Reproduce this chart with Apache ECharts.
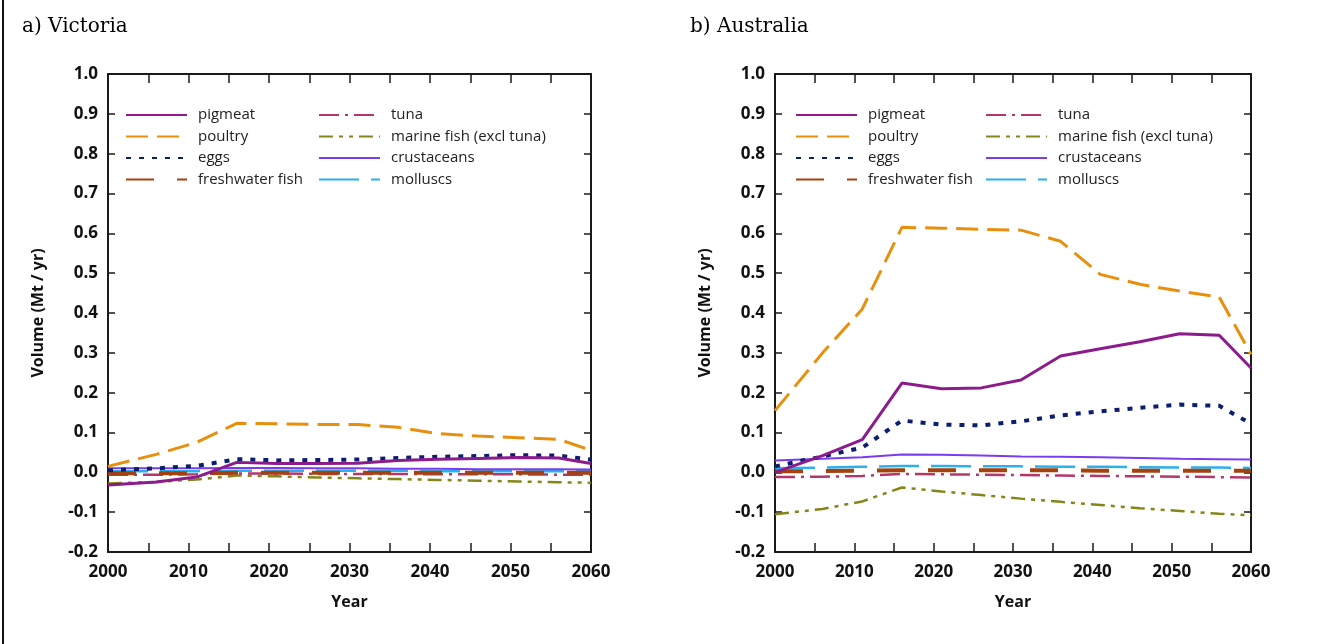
<!DOCTYPE html>
<html>
<head>
<meta charset="utf-8">
<script src="https://cdn.jsdelivr.net/npm/echarts@6/dist/echarts.min.js"></script>
<style>
html,body{margin:0;padding:0;background:#fff;}
#chart{width:1330px;height:644px;}
#edge{position:absolute;left:2px;top:0;width:2px;height:644px;background:#111;}
</style>
</head>
<body>
<div id="chart"></div>
<div id="edge"></div>
<script>
// ---- data ----
const years = [2000, 2006, 2011, 2016, 2021, 2026, 2031, 2036, 2041, 2046, 2051, 2056, 2060];
const seriesNames = ['pigmeat', 'poultry', 'eggs', 'freshwater fish', 'tuna', 'marine fish (excl tuna)', 'crustaceans', 'molluscs'];
const xTicks = [2000, 2010, 2020, 2030, 2040, 2050, 2060];
const yTicks = [-0.2, -0.1, 0.0, 0.1, 0.2, 0.3, 0.4, 0.5, 0.6, 0.7, 0.8, 0.9, 1.0];
const panelTitles = ['a) Victoria', 'b) Australia'];

// Victoria
const vicPigmeat     = [-0.032, -0.024, -0.012, 0.025, 0.022, 0.022, 0.023, 0.030, 0.033, 0.035, 0.037, 0.036, 0.022];
const vicPoultry     = [0.015, 0.045, 0.075, 0.123, 0.122, 0.120, 0.120, 0.113, 0.097, 0.091, 0.087, 0.083, 0.055];
const vicEggs        = [0.005, 0.010, 0.016, 0.033, 0.030, 0.031, 0.032, 0.036, 0.039, 0.041, 0.043, 0.042, 0.032];
const vicFreshwater  = [-0.002, -0.002, -0.002, -0.001, -0.001, -0.001, -0.001, -0.001, -0.001, -0.001, -0.001, -0.001, -0.001];
const vicTuna        = [-0.006, -0.006, -0.005, -0.003, -0.003, -0.004, -0.004, -0.004, -0.005, -0.005, -0.005, -0.006, -0.006];
const vicMarine      = [-0.028, -0.024, -0.018, -0.008, -0.010, -0.013, -0.015, -0.017, -0.019, -0.021, -0.023, -0.025, -0.026];
const vicCrustaceans = [0.010, 0.010, 0.010, 0.011, 0.011, 0.010, 0.010, 0.009, 0.009, 0.008, 0.008, 0.008, 0.007];
const vicMolluscs    = [0.003, 0.003, 0.003, 0.004, 0.004, 0.004, 0.004, 0.004, 0.003, 0.003, 0.003, 0.003, 0.003];

// Australia
const ausPigmeat     = [0.000, 0.042, 0.082, 0.224, 0.210, 0.212, 0.232, 0.292, 0.310, 0.328, 0.348, 0.344, 0.262];
const ausPoultry     = [0.155, 0.300, 0.410, 0.615, 0.613, 0.610, 0.608, 0.580, 0.497, 0.472, 0.455, 0.440, 0.296];
const ausEggs        = [0.015, 0.040, 0.062, 0.130, 0.120, 0.118, 0.128, 0.143, 0.153, 0.162, 0.170, 0.167, 0.122];
const ausFreshwater  = [0.003, 0.003, 0.004, 0.005, 0.005, 0.005, 0.005, 0.005, 0.004, 0.004, 0.004, 0.004, 0.004];
const ausTuna        = [-0.012, -0.011, -0.009, -0.004, -0.005, -0.006, -0.007, -0.008, -0.009, -0.010, -0.011, -0.012, -0.013];
const ausMarine      = [-0.105, -0.092, -0.073, -0.038, -0.048, -0.057, -0.066, -0.074, -0.082, -0.090, -0.097, -0.104, -0.108];
const ausCrustaceans = [0.030, 0.034, 0.038, 0.045, 0.044, 0.042, 0.040, 0.039, 0.038, 0.036, 0.034, 0.033, 0.032];
const ausMolluscs    = [0.010, 0.012, 0.014, 0.016, 0.016, 0.015, 0.015, 0.014, 0.014, 0.013, 0.012, 0.012, 0.011];

const vicData = [vicPigmeat, vicPoultry, vicEggs, vicFreshwater, vicTuna, vicMarine, vicCrustaceans, vicMolluscs];
const ausData = [ausPigmeat, ausPoultry, ausEggs, ausFreshwater, ausTuna, ausMarine, ausCrustaceans, ausMolluscs];

// ---- styles ----
const lineStyles = [
  {color: '#8C1C8C', width: 3, type: 'solid'},
  {color: '#E8900E', width: 3, type: [22, 9]},
  {color: '#0B1E6E', width: 4, type: [5, 8]},
  {color: '#A3420F', width: 4, type: [28, 23]},
  {color: '#B4376C', width: 2.5, type: [20, 6, 3, 6]},
  {color: '#858519', width: 2.5, type: [14, 6, 4, 6, 4, 6]},
  {color: '#7A3CF0', width: 2, type: 'solid'},
  {color: '#2BB0EE', width: 2.5, type: [40, 12]}
];

const FONT = 'Open Sans';
const axisCol = '#1a1a1a';
const grids = [
  {left: 108, top: 74, width: 483, height: 478},
  {left: 775, top: 74, width: 476, height: 478}
];

const xAxes = [], yAxes = [], series = [], legends = [], titles = [];
grids.forEach((g, gi) => {
  const base = {
    gridIndex: gi, type: 'value', min: 2000, max: 2060, interval: 5,
    axisLine: {show: true, onZero: false, lineStyle: {color: axisCol, width: 2}},
    axisTick: {show: true, inside: true, length: 9, lineStyle: {color: axisCol, width: 1.5}},
    splitLine: {show: false}
  };
  xAxes.push(Object.assign({}, base, {
    position: 'bottom', name: 'Year', nameLocation: 'middle', nameGap: 42,
    nameTextStyle: {fontFamily: FONT, fontWeight: 'bold', fontSize: 16, color: '#111'},
    axisLabel: {fontFamily: FONT, fontWeight: 'bold', fontSize: 17, color: '#111', margin: 12,
      formatter: v => xTicks.indexOf(v) >= 0 ? String(v) : ''}
  }));
  xAxes.push(Object.assign({}, base, {position: 'top', axisLabel: {show: false}}));
  const ybase = {
    gridIndex: gi, type: 'value', min: -0.2, max: 1.0, interval: 0.1,
    axisLine: {show: true, onZero: false, lineStyle: {color: axisCol, width: 2}},
    axisTick: {show: true, inside: true, length: 7, lineStyle: {color: axisCol, width: 1.5}},
    splitLine: {show: false}
  };
  yAxes.push(Object.assign({}, ybase, {
    position: 'left', name: 'Volume (Mt / yr)', nameLocation: 'middle', nameGap: 62, nameRotate: 90,
    nameTextStyle: {fontFamily: FONT, fontWeight: 'bold', fontSize: 16, color: '#111'},
    axisLabel: {fontFamily: FONT, fontWeight: 'bold', fontSize: 17, color: '#111', margin: 10,
      formatter: v => {
        const t = yTicks.find(k => Math.abs(k - v) < 1e-6);
        return t === undefined ? '' : t.toFixed(1);
      }}
  }));
  yAxes.push(Object.assign({}, ybase, {position: 'right', axisLabel: {show: false}}));

  const data = gi === 0 ? vicData : ausData;
  seriesNames.forEach((n, si) => {
    series.push({
      name: n, type: 'line', xAxisIndex: gi * 2, yAxisIndex: gi * 2,
      data: years.map((y, k) => [y, data[si][k]]),
      symbol: 'none', showSymbol: false, smooth: false, animation: false,
      lineStyle: lineStyles[si], itemStyle: {color: lineStyles[si].color},
      z: 10 - si
    });
  });

  const lx1 = gi === 0 ? 125 : 795;
  const lx2 = gi === 0 ? 318 : 985;
  [[lx1, seriesNames.slice(0, 4)], [lx2, seriesNames.slice(4)]].forEach(([lx, names]) => {
    legends.push({
      left: lx, top: 107, orient: 'vertical', data: names, padding: 0,
      itemWidth: 61, itemHeight: 16, itemGap: 5.5,
      selectedMode: false,
      itemStyle: {opacity: 0},
      textStyle: {fontFamily: FONT, fontSize: 15, color: '#222', lineHeight: 16, padding: [0, 0, 0, 6]}
    });
  });
  titles.push({
    text: panelTitles[gi], left: gi === 0 ? 17 : 685, top: 12,
    textStyle: {fontFamily: 'DejaVu Serif', fontWeight: 'normal', fontSize: 20, color: '#000'}
  });
});

const chart = echarts.init(document.getElementById('chart'), null, {renderer: 'canvas'});
chart.setOption({
  animation: false,
  backgroundColor: '#fff',
  title: titles,
  grid: grids,
  xAxis: xAxes,
  yAxis: yAxes,
  legend: legends,
  series: series
});
</script>
</body>
</html>
